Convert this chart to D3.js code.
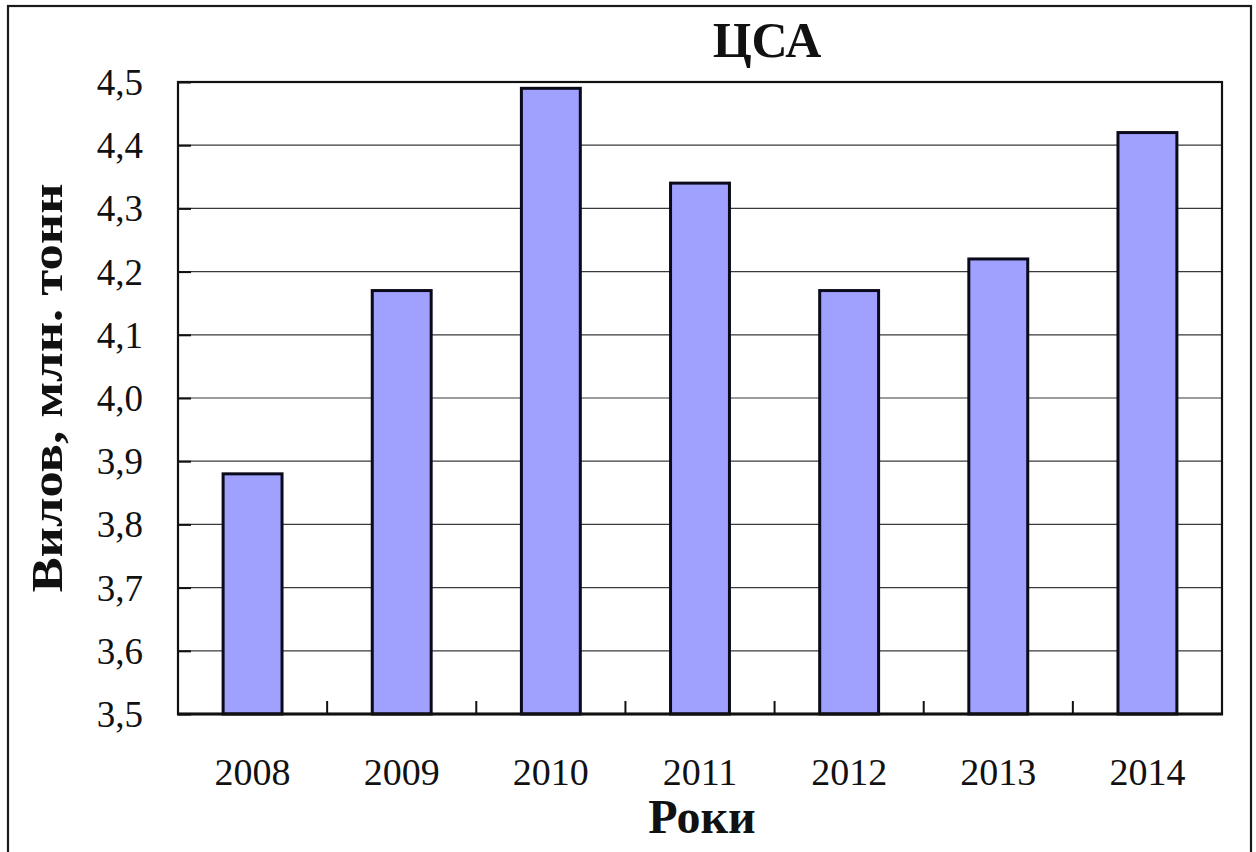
<!DOCTYPE html>
<html>
<head>
<meta charset="utf-8">
<script src="https://cdn.jsdelivr.net/npm/d3@7"></script>
<style>
  html, body { margin: 0; padding: 0; background: #fff; }
  svg { display: block; }
  text { font-family: "Liberation Serif", "Times New Roman", serif; fill: #111; }
</style>
</head>
<body>
<svg id="chart" width="1256" height="852"></svg>
<script>
// Annual catch, USA, million tonnes
const years = ["2008", "2009", "2010", "2011", "2012", "2013", "2014"];
const catchValues = [3.88, 4.17, 4.49, 4.34, 4.17, 4.22, 4.42];
const yTicks = [3.5, 3.6, 3.7, 3.8, 3.9, 4.0, 4.1, 4.2, 4.3, 4.4, 4.5];

const titleText = "ЦСА";
const yTitle = "Вилов, млн. тонн";
const xTitle = "Роки";

const svg = d3.select("#chart");
const plot = { left: 178, right: 1222, top: 82, bottom: 714 };

// outer frame around the whole figure
svg.append("rect")
  .attr("x", 8).attr("y", 6)
  .attr("width", 1243).attr("height", 870)
  .attr("fill", "none").attr("stroke", "#1a1a1a").attr("stroke-width", 2.2);

const x = d3.scaleBand()
  .domain(years)
  .range([plot.left, plot.right])
  .paddingInner(0.605)
  .paddingOuter(0.3025);

const y = d3.scaleLinear()
  .domain([3.5, 4.5])
  .range([plot.bottom, plot.top]);

const fmt = v => d3.format(".1f")(v).replace(".", ",");

// horizontal gridlines
svg.append("g")
  .selectAll("line")
  .data(yTicks.filter(v => v > 3.5 && v < 4.5))
  .join("line")
  .attr("x1", plot.left).attr("x2", plot.right)
  .attr("y1", d => y(d)).attr("y2", d => y(d))
  .attr("stroke", "#3a3a3a").attr("stroke-width", 1.2);

// bars
svg.append("g")
  .selectAll("rect")
  .data(years.map((yr, i) => ({ yr, v: catchValues[i] })))
  .join("rect")
  .attr("x", d => x(d.yr))
  .attr("width", x.bandwidth())
  .attr("y", d => y(d.v))
  .attr("height", d => y(3.5) - y(d.v))
  .attr("fill", "#a0a0ff")
  .attr("stroke", "#0a0a1a")
  .attr("stroke-width", 3);

// plot frame
svg.append("rect")
  .attr("x", plot.left).attr("y", plot.top)
  .attr("width", plot.right - plot.left).attr("height", plot.bottom - plot.top)
  .attr("fill", "none").attr("stroke", "#111").attr("stroke-width", 2.2);

// bottom axis line, heavier
svg.append("line")
  .attr("x1", plot.left - 1).attr("x2", plot.right + 1)
  .attr("y1", plot.bottom).attr("y2", plot.bottom)
  .attr("stroke", "#111").attr("stroke-width", 3.2);

// y axis: inward ticks and labels
const yAxis = d3.axisLeft(y)
  .tickValues(yTicks)
  .tickSizeInner(-13)
  .tickSizeOuter(0)
  .tickPadding(35)
  .tickFormat(fmt);
const gy = svg.append("g").attr("transform", `translate(${plot.left},0)`).call(yAxis);
gy.select(".domain").remove();
gy.selectAll(".tick line").attr("stroke", "#111").attr("stroke-width", 2);
gy.selectAll(".tick text")
  .attr("font-size", 37)
  .attr("font-family", "Liberation Serif, serif")
  .attr("fill", "#111")
  .attr("dy", "0.34em");

// x axis: labels centred under bars, inward ticks at category boundaries
const step = x.step();
const boundaries = years.slice(0, -1).map(yr => x(yr) + x.bandwidth() / 2 + step / 2);
svg.append("g")
  .selectAll("line")
  .data(boundaries)
  .join("line")
  .attr("x1", d => d).attr("x2", d => d)
  .attr("y1", plot.bottom).attr("y2", plot.bottom - 13)
  .attr("stroke", "#111").attr("stroke-width", 2);

svg.append("g")
  .selectAll("text")
  .data(years)
  .join("text")
  .attr("x", d => x(d) + x.bandwidth() / 2)
  .attr("y", 785)
  .attr("text-anchor", "middle")
  .attr("font-size", 38)
  .text(d => d);

// titles
svg.append("text")
  .attr("x", 767).attr("y", 57)
  .attr("text-anchor", "middle")
  .attr("font-size", 50).attr("font-weight", "bold")
  .text(titleText);

svg.append("text")
  .attr("x", 702).attr("y", 833)
  .attr("text-anchor", "middle")
  .attr("font-size", 48).attr("font-weight", "bold")
  .text(xTitle);

svg.append("text")
  .attr("transform", "translate(62,388) rotate(-90)")
  .attr("text-anchor", "middle")
  .attr("font-size", 45).attr("font-weight", "bold")
  .attr("textLength", 409)
  .attr("lengthAdjust", "spacingAndGlyphs")
  .text(yTitle);
</script>
</body>
</html>
